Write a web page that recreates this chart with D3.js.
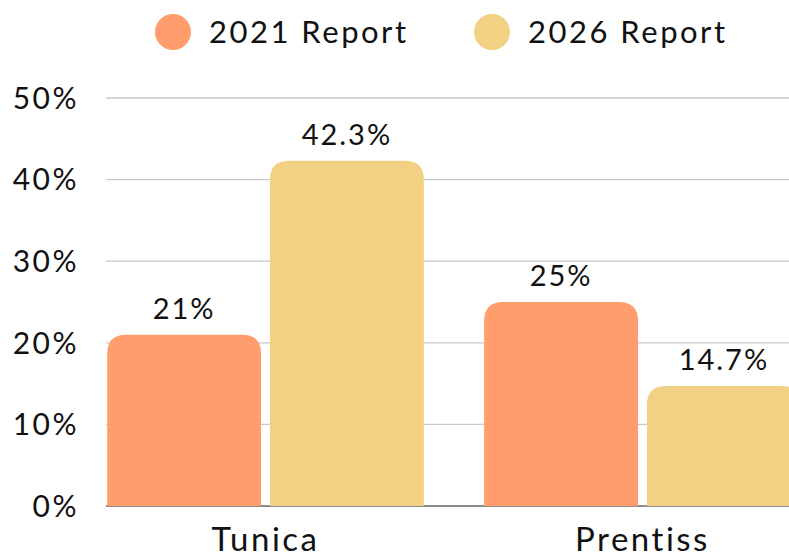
<!DOCTYPE html>
<html>
<head>
<meta charset="utf-8">
<script src="https://cdn.jsdelivr.net/npm/d3@7"></script>
<style>
  body { margin: 0; background: #fff; }
  text { font-family: Lato, "Open Sans", sans-serif; fill: #111; }
</style>
</head>
<body>
<div id="chart"></div>
<script>
// data
var categories = ["Tunica", "Prentiss"];
var seriesNames = ["2021 Report", "2026 Report"];
var values2021 = [21, 25];
var values2026 = [42.3, 14.7];
var valueLabels2021 = ["21%", "25%"];
var valueLabels2026 = ["42.3%", "14.7%"];
var yTicks = [0, 10, 20, 30, 40, 50];
var colors = ["#FF9D6C", "#F2D184"];

var width = 789, height = 552;
var plotLeft = 106, plotRight = 789, plotTop = 98, plotBottom = 506;

var svg = d3.select("#chart").append("svg")
    .attr("width", width)
    .attr("height", height)
    .style("overflow", "hidden");

var y = d3.scaleLinear().domain([0, 50]).range([plotBottom, plotTop]);

var x0 = d3.scaleBand()
    .domain(categories)
    .range([77, 831])
    .paddingInner(0.16)
    .paddingOuter(0.08);

var x1 = d3.scaleBand()
    .domain(seriesNames)
    .range([0, x0.bandwidth()])
    .paddingInner(0.055);

// grid lines
svg.append("g")
    .selectAll("line")
    .data(yTicks.filter(function (d) { return d > 0; }))
    .enter()
    .append("line")
    .attr("x1", plotLeft)
    .attr("x2", plotRight)
    .attr("y1", function (d) { return y(d); })
    .attr("y2", function (d) { return y(d); })
    .style("stroke", "#c8c8c8")
    .style("stroke-width", 1.3);

// baseline
svg.append("line")
    .attr("x1", plotLeft)
    .attr("x2", plotRight)
    .attr("y1", y(0))
    .attr("y2", y(0))
    .style("stroke", "#666")
    .style("stroke-width", 1.3);

// y tick labels
svg.append("g")
    .selectAll("text")
    .data(yTicks)
    .enter()
    .append("text")
    .attr("x", 79)
    .attr("y", function (d) { return y(d); })
    .attr("dy", "0.36em")
    .attr("text-anchor", "end")
    .style("font-size", "30px")
    .style("letter-spacing", "2.5px")
    .text(function (d) { return d + "%"; });

// rounded-top bar path
function topRounded(x, yTop, w, h, r) {
    r = Math.min(r, w / 2, h);
    return "M" + x + "," + (yTop + h) +
        "V" + (yTop + r) +
        "Q" + x + "," + yTop + " " + (x + r) + "," + yTop +
        "H" + (x + w - r) +
        "Q" + (x + w) + "," + yTop + " " + (x + w) + "," + (yTop + r) +
        "V" + (yTop + h) + "Z";
}

var bars = [];
categories.forEach(function (c, i) {
    bars.push({cat: c, s: seriesNames[0], v: values2021[i], label: valueLabels2021[i], color: colors[0]});
    bars.push({cat: c, s: seriesNames[1], v: values2026[i], label: valueLabels2026[i], color: colors[1]});
});

svg.append("g")
    .selectAll("path")
    .data(bars)
    .enter()
    .append("path")
    .attr("d", function (d) {
        var bx = x0(d.cat) + x1(d.s);
        return topRounded(bx, y(d.v), x1.bandwidth(), plotBottom - y(d.v), 19);
    })
    .style("fill", function (d) { return d.color; });

// value labels
svg.append("g")
    .selectAll("text")
    .data(bars)
    .enter()
    .append("text")
    .attr("x", function (d) { return x0(d.cat) + x1(d.s) + x1.bandwidth() / 2; })
    .attr("y", function (d) { return y(d.v) - 16; })
    .attr("text-anchor", "middle")
    .style("font-size", "29px")
    .style("letter-spacing", "2px")
    .text(function (d) { return d.label; });

// category labels
svg.append("g")
    .selectAll("text")
    .data(categories)
    .enter()
    .append("text")
    .attr("x", function (d) { return x0(d) + x0.bandwidth() / 2; })
    .attr("y", 551)
    .attr("text-anchor", "middle")
    .style("font-size", "33px")
    .style("letter-spacing", "2.5px")
    .text(function (d) { return d; });

// legend
var legendX = [173, 492];
var legend = svg.append("g")
    .selectAll("g")
    .data(seriesNames)
    .enter()
    .append("g")
    .attr("transform", function (d, i) { return "translate(" + legendX[i] + ",32)"; });

legend.append("circle")
    .attr("r", 18)
    .style("fill", function (d, i) { return colors[i]; });

legend.append("text")
    .attr("x", 36)
    .attr("dy", "0.36em")
    .style("font-size", "31px")
    .style("letter-spacing", "2.5px")
    .text(function (d) { return d; });
</script>
</body>
</html>
